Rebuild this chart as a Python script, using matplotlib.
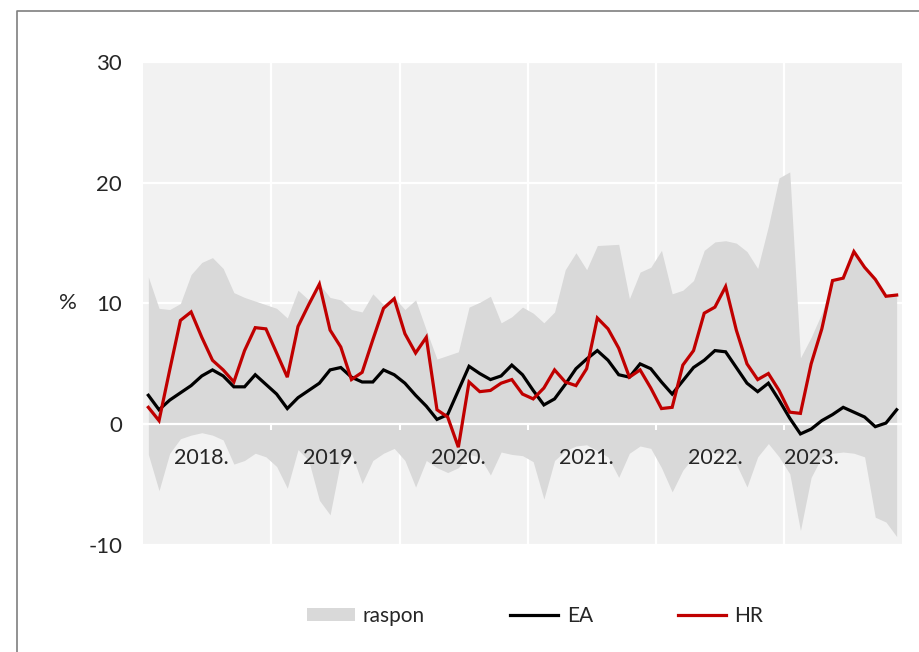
import numpy as np
import matplotlib.pyplot as plt
from matplotlib.patches import Patch
from matplotlib.lines import Line2D

plt.rcParams['font.family'] = ['Lato', 'DejaVu Sans']
plt.rcParams['axes.unicode_minus'] = False

# monthly data, siječanj 2018. - studeni 2023.
hr = [1.4, 0.3, 4.5, 8.6, 9.3, 7.2, 5.3, 4.5, 3.5, 6.1, 8.0, 7.9,
      5.9, 3.9, 8.1, 9.9, 11.6, 7.8, 6.4, 3.7, 4.3, 7.0, 9.6, 10.4,
      7.5, 5.9, 7.2, 1.2, 0.6, -1.9, 3.5, 2.7, 2.8, 3.4, 3.7, 2.5,
      2.1, 3.0, 4.5, 3.5, 3.2, 4.6, 8.8, 7.9, 6.3, 3.9, 4.5, 3.0,
      1.3, 1.4, 4.9, 6.1, 9.2, 9.7, 11.4, 7.8, 5.0, 3.7, 4.2, 2.8,
      1.0, 0.9, 5.0, 7.9, 11.9, 12.1, 14.3, 13.0, 12.0, 10.6, 10.7]
ea = [2.4, 1.2, 2.0, 2.6, 3.2, 4.0, 4.5, 4.0, 3.1, 3.1, 4.1, 3.3,
      2.5, 1.3, 2.2, 2.8, 3.4, 4.5, 4.7, 3.9, 3.5, 3.5, 4.5, 4.1,
      3.4, 2.4, 1.5, 0.4, 0.8, 2.8, 4.8, 4.2, 3.7, 4.0, 4.9, 4.1,
      2.8, 1.6, 2.1, 3.3, 4.6, 5.4, 6.1, 5.3, 4.1, 3.9, 5.0, 4.6,
      3.5, 2.5, 3.6, 4.7, 5.3, 6.1, 6.0, 4.7, 3.4, 2.7, 3.4, 2.0,
      0.5, -0.8, -0.4, 0.3, 0.8, 1.4, 1.0, 0.6, -0.2, 0.1, 1.2]
upper = [12.2, 9.6, 9.5, 10.0, 12.4, 13.4, 13.8, 12.9, 10.9, 10.5, 10.2, 9.9,
         9.6, 8.8, 11.1, 10.3, 11.6, 10.5, 10.3, 9.5, 9.3, 10.8, 9.9, 10.5,
         9.5, 10.3, 7.8, 5.4, 5.7, 6.0, 9.7, 10.1, 10.6, 8.4, 8.9, 9.7,
         9.2, 8.4, 9.3, 12.8, 14.2, 12.8, 14.8, 14.85, 14.9, 10.4, 12.6, 13.0,
         14.4, 10.8, 11.1, 11.9, 14.4, 15.1, 15.2, 15.0, 14.3, 12.9, 16.4, 20.4,
         20.9, 5.5, 7.2, 9.2, 11.9, 12.1, 14.3, 13.0, 12.0, 10.6, 10.7]
lower = [-2.5, -5.5, -2.4, -1.2, -0.9, -0.7, -0.9, -1.3, -3.3, -3.0, -2.4, -2.7,
         -3.5, -5.3, -2.1, -3.0, -6.3, -7.5, -3.0, -2.4, -4.9, -3.0, -2.4, -2.0,
         -3.0, -5.2, -3.0, -3.6, -4.0, -3.6, -2.5, -2.7, -4.2, -2.3, -2.5, -2.6,
         -3.1, -6.2, -3.0, -2.2, -1.8, -1.7, -2.2, -2.7, -4.4, -2.4, -1.8, -2.0,
         -3.6, -5.6, -3.8, -2.7, -2.0, -2.4, -2.4, -3.3, -5.2, -2.7, -1.6, -2.7,
         -4.1, -8.8, -4.4, -2.7, -2.4, -2.3, -2.4, -2.7, -7.7, -8.1, -9.3]

year_labels = ['2018.', '2019.', '2020.', '2021.', '2022.', '2023.']
label_months = [5, 17, 29, 41, 53, 62]
year_breaks = [11.5, 23.5, 35.5, 47.5, 59.5]
y_ticks = [-10, 0, 10, 20, 30]

x = np.arange(len(hr))
text_color = '#262626'

fig = plt.figure(figsize=(9.2, 6.52), dpi=100)
ax = fig.add_axes([143 / 920, 1 - 545 / 652, 759 / 920, 483 / 652])
ax.set_facecolor('#F2F2F2')

# white gridlines sit under the shaded range
for yt in y_ticks:
    ax.axhline(yt, color='white', lw=1.6, zorder=0.5)
for xb in year_breaks:
    ax.axvline(xb, color='white', lw=1.6, zorder=0.5)

ax.fill_between(x, lower, upper, color='#D9D9D9', lw=0, zorder=1)
ax.plot(x, ea, color='black', lw=2.3, zorder=3, solid_joinstyle='miter')
ax.plot(x, hr, color='#C00000', lw=2.3, zorder=4, solid_joinstyle='miter')

ax.set_xlim(-0.5, len(hr) - 0.5)
ax.set_ylim(-10, 30)
ax.set_yticks(y_ticks)

ax.set_xticks(year_breaks)
ax.set_xticklabels([])
ax.set_xticks(label_months, minor=True)
ax.set_xticklabels(year_labels, minor=True)
ax.tick_params(axis='x', which='major', direction='out', length=4.5, width=1.5, color='white')
ax.tick_params(axis='x', which='minor', length=0, pad=17, labelsize=15.5, labelcolor=text_color)
ax.tick_params(axis='y', length=0, pad=15, labelsize=16, labelcolor=text_color)

for s in ['top', 'left', 'right']:
    ax.spines[s].set_visible(False)
ax.spines['bottom'].set_position(('data', 0))
ax.spines['bottom'].set_color('white')
ax.spines['bottom'].set_linewidth(1.6)
ax.spines['bottom'].set_zorder(2)

ax.set_ylabel('%', rotation=0, fontsize=16, color=text_color, va='center', ha='center')
ax.yaxis.set_label_coords(-0.099, 0.5)

handles = [Patch(facecolor='#D9D9D9', edgecolor='none'),
           Line2D([], [], color='black', lw=2.3),
           Line2D([], [], color='#C00000', lw=2.3)]
fig.legend(handles, ['raspon', 'EA', 'HR'], loc='center', ncol=3,
           bbox_to_anchor=(535 / 920, 1 - 616 / 652), frameon=False,
           fontsize=15, handlelength=2.3, handleheight=0.55, handletextpad=0.4,
           columnspacing=4.1, labelcolor=text_color)

# outer frame
fig.add_artist(Line2D([17 / 920, 17 / 920, 1], [0, 1 - 11 / 652, 1 - 11 / 652],
                      color='#7F7F7F', lw=1.2, transform=fig.transFigure))

fig.savefig('out.png', dpi=100)
